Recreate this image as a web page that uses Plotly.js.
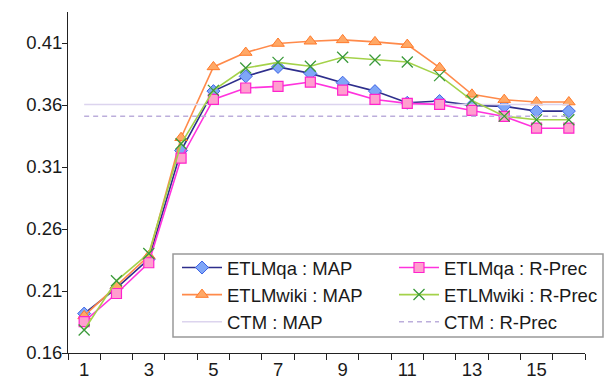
<!DOCTYPE html>
<html><head><meta charset="utf-8">
<script src="https://cdn.plot.ly/plotly-3.0.1.min.js"></script>
<style>body{margin:0;background:#fff}#c{width:608px;height:386px}</style>
</head><body><div id="c"></div>
<script>
const topics = [1,2,3,4,5,6,7,8,9,10,11,12,13,14,15,16];
const etlmqaMAP   = [0.1918,0.2123,0.2357,0.3233,0.3712,0.3831,0.3907,0.3855,0.3780,0.3712,0.3618,0.3632,0.3597,0.3589,0.3551,0.3551];
const etlmqaRP    = [0.1853,0.2080,0.2328,0.3171,0.3645,0.3737,0.3750,0.3785,0.3720,0.3645,0.3613,0.3605,0.3556,0.3508,0.3413,0.3413];
const etlmwikiMAP = [0.1899,0.2142,0.2384,0.3336,0.3907,0.4023,0.4096,0.4114,0.4125,0.4109,0.4087,0.3901,0.3686,0.3643,0.3624,0.3624];
const etlmwikiRP  = [0.1786,0.2182,0.2403,0.3287,0.3718,0.3898,0.3944,0.3912,0.3985,0.3963,0.3947,0.3837,0.3637,0.3510,0.3481,0.3481];
const ctmMAP = 0.3605;
const ctmRP  = 0.3510;
const xTickVals = [1,3,5,7,9,11,13,15];
const xTickText = ['1','3','5','7','9','11','13','15'];
const yTickVals = [0.16,0.21,0.26,0.31,0.36,0.41];

const traces = [
  {x:topics,y:etlmqaMAP,name:'ETLMqa : MAP',mode:'lines+markers',legend:'legend',
   line:{color:'#2e2e8c',width:1.6},marker:{symbol:'diamond',size:10,color:'#7fa6f7',line:{color:'#3d63e6',width:1}}},
  {x:topics,y:etlmwikiMAP,name:'ETLMwiki : MAP',mode:'lines+markers',legend:'legend',
   line:{color:'#ff8a4a',width:1.6},marker:{symbol:'triangle-up',size:11,color:'#ffa866',line:{color:'#ff7a2a',width:1}}},
  {x:topics,y:topics.map(()=>ctmMAP),name:'CTM : MAP',mode:'lines',legend:'legend',
   line:{color:'#dcd4ee',width:1.5}},
  {x:topics,y:etlmqaRP,name:'ETLMqa : R-Prec',mode:'lines+markers',legend:'legend2',
   line:{color:'#ff33dd',width:1.6},marker:{symbol:'square',size:10,color:'#ff9fcf',line:{color:'#ff22cc',width:1.2}}},
  {x:topics,y:etlmwikiRP,name:'ETLMwiki : R-Prec',mode:'lines+markers',legend:'legend2',
   line:{color:'#a4d24a',width:1.6},marker:{symbol:'x-thin',size:11,color:'#3a9a3a',line:{color:'#3a9a3a',width:1.3}}},
  {x:topics,y:topics.map(()=>ctmRP),name:'CTM : R-Prec',mode:'lines',legend:'legend2',
   line:{color:'#bcaedb',width:1.5,dash:'5px,4px'}}
];

const font = {family:'"Liberation Sans", Arial, sans-serif', size:18.5, color:'#1a1a1a'};
const legTop = (353-249)/341;
const layout = {
  width:608,height:386,
  margin:{l:68,r:23,t:12,b:33,autoexpand:false},
  paper_bgcolor:'#fff',plot_bgcolor:'#fff',
  font:font,
  showlegend:true,
  xaxis:{range:[0.5,16.5],tickmode:'array',tickvals:xTickVals,ticktext:xTickText,ticks:'',automargin:false,
    showline:true,linecolor:'#222',linewidth:1,showgrid:false,zeroline:false,
    minor:{tickmode:'linear',tick0:0.5,dtick:1,ticks:'outside',ticklen:6,tickcolor:'#222',showgrid:false},
    tickfont:font},
  yaxis:{range:[0.16,0.435],tickmode:'array',tickvals:yTickVals,tickformat:'.2f',ticks:'outside',ticklen:5,tickcolor:'#222',
    ticklabelstandoff:-4,automargin:false,
    showline:true,linecolor:'#222',linewidth:1,showgrid:false,zeroline:false,tickfont:font},
  legend:{x:(177-68)/517,y:legTop,xanchor:'left',yanchor:'top',bgcolor:'rgba(0,0,0,0)',borderwidth:0,
    font:font,tracegroupgap:0,itemwidth:40},
  legend2:{x:(394-68)/517,y:legTop,xanchor:'left',yanchor:'top',bgcolor:'rgba(0,0,0,0)',borderwidth:0,
    font:font,tracegroupgap:0,itemwidth:40},
  shapes:[{type:'rect',xref:'paper',yref:'paper',x0:(173-68)/517,x1:(603-68)/517,y0:(353-337)/341,y1:(353-254)/341,
    line:{color:'#999',width:1.5},fillcolor:'#fff',layer:'above'}]
};
Plotly.newPlot('c',traces,layout,{displayModeBar:false,staticPlot:true});
</script></body></html>
